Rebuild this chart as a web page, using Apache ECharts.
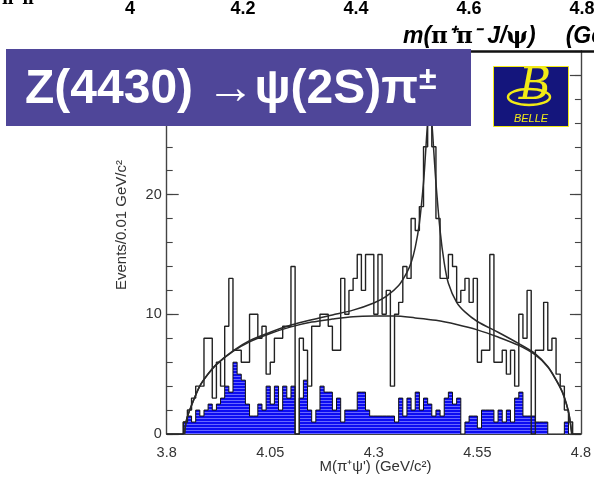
<!DOCTYPE html>
<html><head><meta charset="utf-8">
<script src="https://cdn.jsdelivr.net/npm/echarts@6/dist/echarts.min.js"></script>
<style>html,body{margin:0;padding:0;background:#fff}#c{width:594px;height:477px}</style>
</head><body><div id="c"></div>
<script>
// Histogram binning: 0.01 GeV bins starting at 3.80 GeV
const binStart = 3.80;
const binWidth = 0.01;

// Observed events per bin (open histogram)
const dataCounts = [
  0, 0, 0, 0, 1, 2, 3, 4, 4, 8,
  8, 3, 6, 4, 9, 13, 7, 7, 6, 6,
  10, 10, 8, 9, 5, 6, 8, 8, 9, 9,
  14, 0, 8, 7, 4, 9, 9, 10, 10, 9,
  7, 7, 13, 10, 12, 13, 15, 12, 15, 15,
  10, 15, 10, 12, 4, 10, 11, 14, 13, 18,
  17, 19, 24, 28, 24, 18, 13, 13, 15, 14,
  11, 12, 13, 11, 13, 6, 7, 7, 15, 6,
  6, 7, 5, 7, 4, 10, 8, 12, 0, 7,
  7, 11, 7, 8, 5, 4, 2, 1, 0, 0
];

// Sideband background estimate per bin (hatched blue histogram)
const bkgCounts = [
  0, 0, 0, 0, 1, 1.5, 1, 2, 1.5, 2,
  2.5, 2, 2.5, 3, 4, 3.5, 6, 5, 4.5, 2.5,
  1.5, 1.5, 2.5, 2, 4, 2.5, 4, 2, 4, 3,
  4, 0, 3, 4.5, 2, 1, 2, 4, 3.5, 3.5,
  2, 3, 1, 2, 2, 2, 3.5, 3.5, 2, 1.5,
  1.5, 1.5, 1.5, 1.5, 1.5, 1, 3, 1.5, 3, 2,
  3.5, 2, 3, 2.5, 1.5, 2, 1.5, 3, 3.5, 2.5,
  3, 0, 1, 1.5, 1.5, 0.5, 2, 2, 2, 1,
  2, 1, 2, 1, 3, 3.5, 1.5, 1.5, 1.5, 1,
  1, 1, 0, 0, 0, 0, 1, 0, 0, 0
];

// Fitted background shape (mass in GeV, events per bin)
const bkgCurveMass = [3.843, 3.848, 3.86, 3.88, 3.90, 3.92, 3.96, 4.00, 4.05, 4.10, 4.15, 4.20, 4.25, 4.30, 4.35, 4.40, 4.45, 4.50, 4.55, 4.60, 4.65, 4.69, 4.72, 4.74, 4.755, 4.765, 4.772, 4.778];
const bkgCurveVal  = [0, 1.2, 2.4, 4.0, 5.0, 5.8, 6.9, 7.7, 8.4, 8.95, 9.35, 9.6, 9.8, 9.85, 9.85, 9.7, 9.5, 9.15, 8.7, 8.1, 7.4, 6.6, 5.6, 4.5, 3.5, 2.5, 1.5, 0];

// Total fit: Z(4430) signal on top of background
const fitCurveMass = [3.843, 3.848, 3.86, 3.88, 3.90, 3.92, 3.96, 4.00, 4.05, 4.10, 4.15, 4.20, 4.25, 4.30, 4.33, 4.36, 4.38, 4.39, 4.40, 4.41, 4.42, 4.425, 4.43, 4.435, 4.44, 4.445, 4.45, 4.46, 4.47, 4.48, 4.50, 4.52, 4.55, 4.60, 4.65, 4.69, 4.72, 4.74, 4.755, 4.765, 4.772, 4.778];
const fitCurveVal  = [0, 1.2, 2.4, 4.02, 5.03, 5.83, 6.95, 7.8, 8.5, 9.1, 9.55, 9.95, 10.35, 10.95, 11.5, 12.4, 13.5, 14.3, 15.6, 17.6, 21.0, 23.5, 26, 27, 26, 23.5, 21, 17, 14.3, 12.6, 11.0, 10.2, 9.4, 8.5, 7.55, 6.7, 5.65, 4.55, 3.55, 2.5, 1.5, 0];

// Axis ticks
const xTickValues = [3.8, 4.05, 4.3, 4.55, 4.8];
const yMax = 32;
const upperTickLabels = ['4', '4.2', '4.4', '4.6', '4.8'];

function stepPoints(counts) {
  const pts = counts.map((v, i) => [+(binStart + i * binWidth).toFixed(3), v]);
  pts.push([+(binStart + counts.length * binWidth).toFixed(3), counts[counts.length - 1]]);
  return pts;
}
function curvePoints(ms, vs) { return ms.map((m, i) => [m, vs[i]]); }

// Horizontal-line texture used for the background histogram
const hatch = document.createElement('canvas');
hatch.width = 4; hatch.height = 3;
const hc = hatch.getContext('2d');
hc.fillStyle = '#0c0cf2'; hc.fillRect(0, 0, 4, 3);
hc.fillStyle = '#6767ff'; hc.fillRect(0, 1, 4, 1);

const FONT = '"Liberation Sans", Arial, sans-serif';
const axisGray = '#444';
const labelGray = '#333';

const chart = echarts.init(document.getElementById('c'), null, {renderer: 'canvas'});

const yAxisBase = {type: 'value', min: 0, max: yMax, splitLine: {show: false}};

chart.setOption({
  animation: false,
  backgroundColor: '#fff',
  grid: {left: 166.7, right: 7.5, top: 51, bottom: 43, containLabel: false},
  xAxis: [{
    type: 'value', min: 3.8, max: 4.8,
    axisLine: {show: true, onZero: false, lineStyle: {color: axisGray, width: 1.2}},
    axisTick: {show: false},
    splitLine: {show: false},
    axisLabel: {customValues: xTickValues, color: labelGray, fontSize: 14.5, fontFamily: FONT, margin: 11,
      formatter: v => String(+v.toFixed(2))}
  }],
  yAxis: [
    Object.assign({}, yAxisBase, {
      position: 'left', interval: 10,
      axisLine: {show: true, lineStyle: {color: axisGray, width: 1.4}},
      axisTick: {show: true, inside: true, length: 12, lineStyle: {color: axisGray, width: 1.2}},
      axisLabel: {color: labelGray, fontSize: 14.5, fontFamily: FONT, margin: 5, showMaxLabel: false}
    }),
    Object.assign({}, yAxisBase, {
      position: 'left', interval: 2,
      axisLine: {show: false},
      axisTick: {show: true, inside: true, length: 6, lineStyle: {color: axisGray, width: 1.1}},
      axisLabel: {show: false}
    }),
    Object.assign({}, yAxisBase, {
      position: 'right', interval: 10,
      axisLine: {show: true, lineStyle: {color: axisGray, width: 1.4}},
      axisTick: {show: true, inside: true, length: 11, lineStyle: {color: axisGray, width: 1.2}},
      axisLabel: {show: false}
    }),
    Object.assign({}, yAxisBase, {
      position: 'right', interval: 2,
      axisLine: {show: false},
      axisTick: {show: true, inside: true, length: 6, lineStyle: {color: axisGray, width: 1.1}},
      axisLabel: {show: false}
    })
  ],
  series: [
    {
      name: 'sideband', type: 'line', step: 'end', data: stepPoints(bkgCounts),
      symbol: 'none', z: 2,
      lineStyle: {color: '#111', width: 1},
      areaStyle: {color: {image: hatch, repeat: 'repeat'}, opacity: 1}
    },
    {
      name: 'data', type: 'line', step: 'end', data: stepPoints(dataCounts),
      symbol: 'none', z: 3,
      lineStyle: {color: '#222', width: 1.4}
    },
    {
      name: 'background fit', type: 'line', smooth: 0.3, data: curvePoints(bkgCurveMass, bkgCurveVal),
      symbol: 'none', z: 4,
      lineStyle: {color: '#2a2a2a', width: 1.5}
    },
    {
      name: 'total fit', type: 'line', smooth: 0.3, data: curvePoints(fitCurveMass, fitCurveVal),
      symbol: 'none', z: 4,
      lineStyle: {color: '#2a2a2a', width: 1.5}
    }
  ],
  graphic: [
    // axis titles
    {
      type: 'text', z: 20, x: 122, y: 225, rotation: Math.PI / 2,
      style: {text: 'Events/0.01 GeV/c²', fill: labelGray, font: '15px ' + FONT, align: 'center', verticalAlign: 'middle'}
    },
    {
      type: 'text', z: 20, x: 375.5, y: 467,
      style: {text: 'M(π⁺ψ\') (GeV/c²)', fill: labelGray, font: '15px ' + FONT, align: 'center', verticalAlign: 'middle'}
    },
    // upper panel remnants: tick labels, axis title and axis line
    ...upperTickLabels.map((t, i) => ({
      type: 'text', z: 50, x: 130 + i * 113, y: 9,
      style: {text: t, fill: '#000', font: 'bold 18px ' + FONT, align: 'center', verticalAlign: 'middle'}
    })),
    {
      type: 'text', z: 50, x: 2, y: 8,
      style: {text: 'π⁺π⁻', fill: '#000', font: 'bold 16px "DejaVu Serif", serif', align: 'left', verticalAlign: 'bottom'}
    },
    {
      type: 'text', z: 50, x: 403, y: 37,
      style: {
        text: '{i|m(}{g|π}{i|⁺}{g|π}{i|⁻ J/}{g|ψ}{i|)}{sp| }{i|(GeV/c²)}',
        align: 'left', verticalAlign: 'middle',
        rich: {
          i: {fill: '#000', font: 'italic bold 23px ' + FONT},
          g: {fill: '#000', font: 'bold 23px "DejaVu Serif", serif'},
          sp: {font: '23px ' + FONT, width: 30}
        }
      }
    },
    {
      type: 'line', z: 50, shape: {x1: 400, y1: 51.5, x2: 594, y2: 51.5},
      style: {stroke: '#111', lineWidth: 2.5}
    },
    // title banner
    {
      type: 'rect', z: 60, shape: {x: 6, y: 49, width: 465, height: 77},
      style: {fill: '#4f4699'}
    },
    {
      type: 'text', z: 61, x: 25, y: 90,
      style: {
        text: '{m|Z(4430) →ψ(2S)π}{s|±}',
        align: 'left', verticalAlign: 'middle',
        rich: {
          m: {fill: '#fff', font: 'bold 48px ' + FONT},
          s: {fill: '#fff', font: 'bold 32px ' + FONT, verticalAlign: 'top', padding: [0, 0, 20, 1]}
        }
      }
    },
    // Belle logo
    {
      type: 'rect', z: 60, shape: {x: 493.5, y: 66.5, width: 75, height: 60},
      style: {fill: '#14157c', stroke: '#f2ea16', lineWidth: 1}
    },
    {
      type: 'ellipse', z: 61, shape: {cx: 529, cy: 97, rx: 21, ry: 8},
      style: {fill: 'none', stroke: '#f2ea16', lineWidth: 2.5}
    },
    {
      type: 'text', z: 62, x: 535, y: 88,
      style: {text: 'B', fill: '#f2ea16', font: 'italic 44px "DejaVu Serif", serif', align: 'center', verticalAlign: 'middle'}
    },
    {
      type: 'text', z: 62, x: 531, y: 119,
      style: {text: 'BELLE', fill: '#f2ea16', font: 'italic 11px ' + FONT, align: 'center', verticalAlign: 'middle'}
    }
  ]
});
</script>
</body></html>
